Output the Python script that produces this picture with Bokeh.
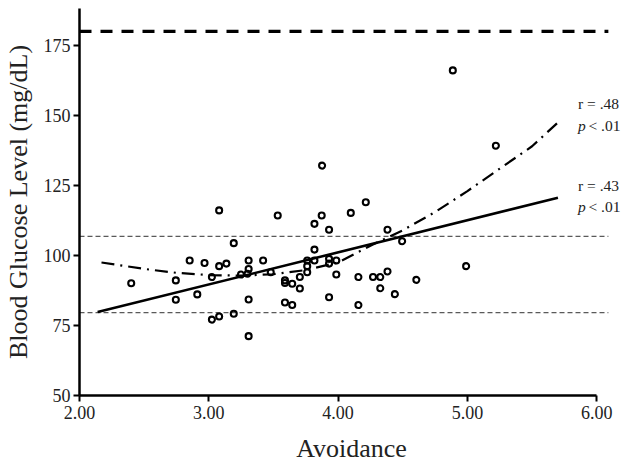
from bokeh.plotting import figure
from bokeh.models import Range1d, Label, FixedTicker
from bokeh.embed import file_html
from bokeh.resources import INLINE

# scatter data (Avoidance vs Blood Glucose)
avoidance = [2.40, 2.745, 2.745, 2.852, 2.911, 2.967, 3.024, 3.024, 3.080, 3.080,
             3.080, 3.136, 3.193, 3.193, 3.249, 3.308, 3.308, 3.300, 3.308, 3.308,
             3.420, 3.479, 3.533, 3.589, 3.589, 3.589, 3.645, 3.645, 3.704, 3.704,
             3.761, 3.761, 3.761, 3.817, 3.817, 3.817, 3.873, 3.876, 3.930, 3.930,
             3.930, 3.930, 3.986, 3.986, 4.098, 4.157, 4.157, 4.214, 4.270, 4.326,
             4.326, 4.382, 4.382, 4.439, 4.495, 4.605, 4.887, 4.990, 5.220]
glucose = [90.1, 91.1, 84.2, 98.2, 86.1, 97.3, 92.3, 77.1, 78.2, 96.2,
           116.1, 97.1, 104.4, 79.2, 93.2, 98.2, 95.2, 93.5, 84.3, 71.2,
           98.2, 94.0, 114.3, 91.1, 90.2, 83.2, 89.9, 82.3, 92.3, 88.2,
           94.0, 96.2, 98.2, 98.2, 102.1, 111.3, 114.3, 132.1, 109.2, 98.8,
           97.1, 85.1, 98.2, 93.2, 115.2, 92.3, 82.3, 119.0, 92.3, 92.3,
           88.3, 94.3, 109.2, 86.2, 105.1, 91.3, 166.1, 96.2, 139.2]

# linear fit line
lin_x = [2.14, 5.70]
lin_y = [79.8, 120.6]

# curvilinear fit
curve_x = [2.17, 2.5, 2.75, 3.0, 3.25, 3.5, 3.75, 4.0, 4.25, 4.5, 4.75, 5.0, 5.25, 5.5, 5.70]
curve_y = [97.5, 95.2, 93.8, 93.0, 92.8, 93.3, 94.8, 97.5, 103.5, 109.0, 115.5, 123.0, 131.0, 139.0, 147.5]

# reference levels
upper_ref = 180
band_refs = [106.8, 79.6]
ref_x = [2.0, 6.09]

x_ticks = [2, 3, 4, 5, 6]
x_tick_labels = ["2.00", "3.00", "4.00", "5.00", "6.00"]
y_ticks = [50, 75, 100, 125, 150, 175]

annot = [("r = .48", 154.3, 146.4), ("r = .43", 125.0, 117.5)]

FONT = "Liberation Serif"

p = figure(width=623, height=468, output_backend="svg", toolbar_location=None,
           x_range=Range1d(2, 6.207), y_range=Range1d(50, 188.2),
           min_border_left=75, min_border_right=0, min_border_top=8, min_border_bottom=73)
p.outline_line_color = None
p.grid.visible = False
p.background_fill_color = "white"
p.border_fill_color = "white"

# reference lines
p.line(ref_x, [upper_ref, upper_ref], line_color="black", line_width=3.2, line_dash="12 9")
for lv in band_refs:
    p.line(ref_x, [lv, lv], line_color="#5a5a5a", line_width=1.3, line_dash="5 3")

p.line(lin_x, lin_y, line_color="black", line_width=2.6)
p.line(curve_x, curve_y, line_color="black", line_width=2.2, line_dash="13 6 2 6")

p.scatter(avoidance, glucose, marker="circle", size=6, fill_color=None,
          line_color="black", line_width=2.1)

for txt, yr, yp in annot:
    p.add_layout(Label(x=5.855, y=yr, text=txt, text_font=FONT, text_font_size="15.5px",
                       text_baseline="middle", text_color="#222222"))
    p.add_layout(Label(x=5.855, y=yp, text="p", text_font=FONT, text_font_size="15.5px",
                       text_font_style="italic", text_baseline="middle", text_color="#222222"))
    p.add_layout(Label(x=5.855, y=yp, x_offset=10.5, text="< .01", text_font=FONT,
                       text_font_size="15.5px", text_baseline="middle", text_color="#222222"))

for ax in (p.xaxis, p.yaxis):
    ax.axis_line_width = 2.5
    ax.axis_line_color = "black"
    ax.major_tick_line_width = 2
    ax.major_tick_line_color = "black"
    ax.major_tick_in = 0
    ax.major_tick_out = 6
    ax.minor_tick_line_color = None
    ax.major_label_text_font = FONT
    ax.major_label_text_font_size = "18px"
    ax.major_label_text_color = "#222222"
    ax.axis_label_text_font = FONT
    ax.axis_label_text_font_size = "26px"
    ax.axis_label_text_font_style = "normal"
    ax.axis_label_text_color = "#222222"

p.xaxis.ticker = FixedTicker(ticks=x_ticks)
p.xaxis.major_label_overrides = {t: l for t, l in zip(x_ticks, x_tick_labels)}
p.xaxis.bounds = (2, 6)
p.xaxis.axis_label = "Avoidance"
p.xaxis.major_label_standoff = 4
p.xaxis.axis_label_standoff = 12

p.yaxis.ticker = FixedTicker(ticks=y_ticks)
p.yaxis.axis_label = "Blood Glucose Level (mg/dL)"
p.yaxis.major_label_standoff = 3
p.yaxis.axis_label_standoff = 8

open("out.html", "w").write(file_html(p, INLINE))
